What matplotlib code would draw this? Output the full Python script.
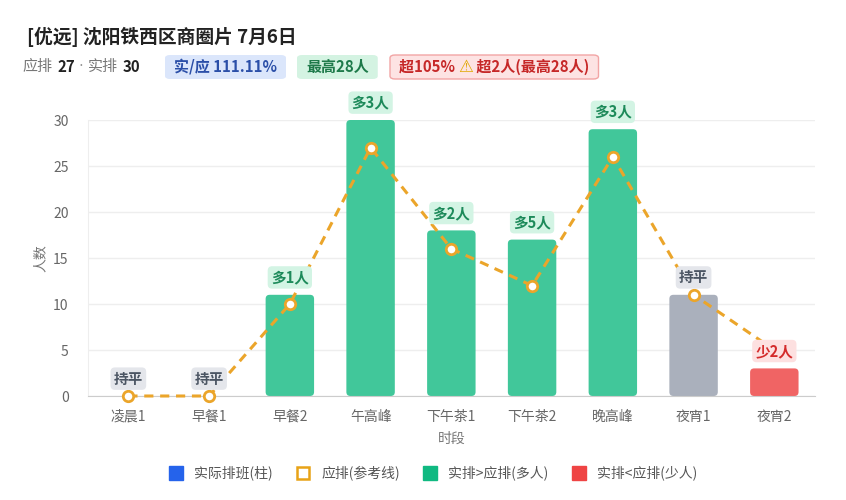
import matplotlib
matplotlib.use("Agg")
import matplotlib.pyplot as plt
from matplotlib.patches import FancyBboxPatch
from matplotlib.lines import Line2D

plt.rcParams['font.family'] = ['Noto Sans CJK SC', 'DejaVu Sans']

# data
slots = ['凌晨1', '早餐1', '早餐2', '午高峰', '下午茶1', '下午茶2', '晚高峰', '夜宵1', '夜宵2']
actual = [0, 0, 11, 30, 18, 17, 29, 11, 3]
expected = [0, 0, 10, 27, 16, 12, 26, 11, 5]
diff_labels = ['持平', '持平', '多1人', '多3人', '多2人', '多5人', '多3人', '持平', '少2人']

title = '[优远] 沈阳铁西区商圈片 7月6日'
plan_total = 27
real_total = 30
ratio_text = '实/应 111.11%'
peak_text = '最高28人'
warn_before = '超105% '
warn_after = ' 超2人(最高28人)'

GREEN = '#41c79a'
GRAY = '#aab0bc'
RED = '#f06464'
ORANGE = '#eba52a'

fig = plt.figure(figsize=(8.46, 5.0), dpi=100)
ax = fig.add_axes([0.104, 0.208, 0.859, 0.552])
W, H = 846, 500

def bar_color(a, e):
    if a > e:
        return GREEN
    if a < e:
        return RED
    return GRAY

x = list(range(len(slots)))
colors = [bar_color(a, e) for a, e in zip(actual, expected)]
bars = ax.bar(x, actual, width=0.6, color=colors, zorder=2)

# swap plain bars for slightly rounded ones
x_unit_px = 0.859 * W / len(slots)
y_unit_px = 0.552 * H / 30
for b, c in zip(bars, colors):
    if b.get_height() <= 0:
        continue
    rb = FancyBboxPatch((b.get_x(), 0), b.get_width(), b.get_height(),
                        boxstyle='round,pad=0,rounding_size=0.05',
                        mutation_aspect=x_unit_px / y_unit_px,
                        facecolor=c, edgecolor='none', zorder=2)
    ax.add_patch(rb)
    b.set_visible(False)

ax.plot(x, expected, color=ORANGE, lw=2.2, ls=(0, (3, 2.2)), marker='o',
        markersize=7.5, markerfacecolor='white', markeredgecolor=ORANGE,
        markeredgewidth=2, zorder=3, clip_on=False)

label_style = {
    '多': ('#d3f4e4', '#1d8a5a'),
    '少': ('#fde0e0', '#d42b2b'),
    '持': ('#e4e6eb', '#4b5563'),
}
for xi, a, lab in zip(x, actual, diff_labels):
    bg, fg = label_style[lab[0]]
    ax.annotate(lab, (xi, a), xytext=(0, 12.5), textcoords='offset points',
                ha='center', va='center', fontsize=10.5, fontweight='bold', color=fg,
                bbox=dict(boxstyle='round,pad=0.22,rounding_size=0.3', fc=bg, ec='none'),
                zorder=5, annotation_clip=False)

ax.set_xlim(-0.5, len(slots) - 0.5)
ax.set_ylim(0, 30)
ax.set_yticks(range(0, 31, 5))
ax.set_xticks(x)
ax.set_xticklabels(slots)
ax.tick_params(axis='both', length=0, colors='#666666', labelsize=10)
ax.tick_params(axis='x', pad=10)
ax.tick_params(axis='y', pad=14)
ax.grid(axis='y', color='#eeeeee', lw=1, zorder=0)
ax.set_axisbelow(True)
for s in ['top', 'right']:
    ax.spines[s].set_visible(False)
ax.spines['left'].set_color('#eeeeee')
ax.spines['bottom'].set_color('#cccccc')
ax.set_xlabel('时段', color='#777777', fontsize=10, labelpad=6)
ax.set_ylabel('人数', color='#777777', fontsize=10, labelpad=4)

# header
renderer = fig.canvas.get_renderer()
fig.text(27 / W, 1 - 37 / H, title, fontsize=13.5, fontweight='bold',
         color='#222222', va='center', ha='left')

def chain(pieces, x0, y, fs=10.8, gaps=None):
    xx = x0
    boxes = []
    for i, p in enumerate(pieces):
        s, c, w = p[:3]
        kw = {'fontsize': fs}
        if len(p) > 3:
            kw.update(p[3])
        t = fig.text(xx / W, 1 - y / H, s, color=c, fontweight=w,
                     va='center', ha='left', zorder=3, **kw)
        bb = t.get_window_extent(renderer)
        boxes.append(bb)
        xx = bb.x1 + (gaps[i] if gaps else 0)
    return x0, boxes[-1].x1

def badge(pieces, x0, y, bg, ec='none'):
    pad = 9
    a, b = chain(pieces, x0 + pad, y)
    h = 24
    cy = H - y
    p = FancyBboxPatch((x0 / W, (cy - h / 2) / H), (b - a + 2 * pad) / W, h / H,
                       boxstyle='round,pad=0,rounding_size=0.006',
                       transform=fig.transFigure, facecolor=bg, edgecolor=ec,
                       lw=1, zorder=1)
    fig.add_artist(p)

# subtitle counts
chain([('应排', '#777777', 'normal'), (str(plan_total), '#222222', 'bold'),
       ('·', '#999999', 'normal', {'family': 'DejaVu Sans'}), ('实排', '#777777', 'normal'),
       (str(real_total), '#222222', 'bold')],
      22, 67, fs=10.8, gaps=[5, 4, 4, 5, 0])

badge([(warn_before, '#c62828', 'bold'), ('⚠', '#e0a800', 'bold', {'family': 'DejaVu Sans', 'fontsize': 12}),
       (warn_after, '#c62828', 'bold')], 390, 67, '#fde3e3', '#f2a5a5')
badge([(ratio_text, '#2b4fa8', 'bold')], 165, 67, '#dbe6fb')
badge([(peak_text, '#1e7a4a', 'bold')], 297, 67, '#d4f3e2')

handles = [
    Line2D([], [], ls='none', marker='s', markersize=10, markerfacecolor='#2563eb', markeredgecolor='#2563eb'),
    Line2D([], [], ls='none', marker='s', markersize=9, markerfacecolor='white', markeredgecolor='#e8a317', markeredgewidth=1.8),
    Line2D([], [], ls='none', marker='s', markersize=10, markerfacecolor='#10b981', markeredgecolor='#10b981'),
    Line2D([], [], ls='none', marker='s', markersize=10, markerfacecolor='#ef4444', markeredgecolor='#ef4444'),
]
leg = fig.legend(handles, ['实际排班(柱)', '应排(参考线)', '实排>应排(多人)', '实排<应排(少人)'],
                 loc='center', bbox_to_anchor=(0.508, 0.054), ncol=4, frameon=False,
                 handletextpad=0.3, columnspacing=1.2, fontsize=10)
for t in leg.get_texts():
    t.set_color('#555555')

fig.savefig('out.png', dpi=100)
